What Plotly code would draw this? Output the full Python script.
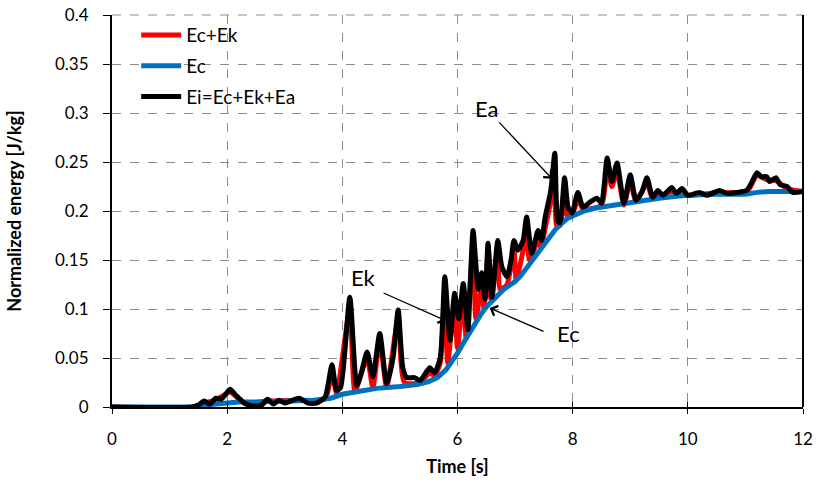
import plotly.graph_objects as go

# ---- data ----
t_ec = [0, 1.4, 1.6, 1.8, 2.0, 2.2, 2.5, 3.0, 3.5, 3.8, 4.0, 4.3, 4.6, 5.0, 5.3, 5.5, 5.65, 5.8, 5.9,
        6.0, 6.1, 6.2, 6.3, 6.4, 6.5, 6.6, 6.7, 6.8, 6.9, 7.0, 7.1, 7.2, 7.3, 7.4, 7.5, 7.6, 7.7, 7.8,
        7.9, 8.0, 8.2, 8.4, 8.6, 8.8, 9.0, 9.2, 9.5, 9.8, 10.0, 10.5, 11.0, 11.2, 11.4, 12.0]
ec = [0, 0, 0.002, 0.003, 0.004, 0.005, 0.005, 0.006, 0.007, 0.009, 0.013, 0.016, 0.019, 0.021, 0.023,
      0.026, 0.030, 0.038, 0.046, 0.055, 0.065, 0.075, 0.085, 0.094, 0.102, 0.108, 0.115, 0.120, 0.124,
      0.128, 0.134, 0.142, 0.150, 0.158, 0.166, 0.174, 0.181, 0.187, 0.192, 0.195, 0.200, 0.203, 0.205,
      0.207, 0.209, 0.211, 0.213, 0.215, 0.216, 0.217, 0.217, 0.219, 0.220, 0.220]

t_eck = [0, 1.4, 1.6, 1.8, 2.05, 2.3, 2.7, 3.25, 3.7, 3.82, 3.9, 4.13, 4.22, 4.43, 4.53, 4.65, 4.77,
         4.97, 5.08, 5.35, 5.52, 5.6, 5.7, 5.78, 5.83, 5.95, 6.0, 6.1, 6.15, 6.27, 6.32, 6.42, 6.46,
         6.53, 6.58, 6.7, 6.74, 6.86, 6.98, 7.02, 7.14, 7.2, 7.25, 7.4, 7.45, 7.52, 7.62, 7.69, 7.72,
         7.78, 7.86, 7.9, 7.99, 8.09, 8.18, 8.5, 8.6, 8.68, 8.77, 8.89, 9.0, 9.1, 9.29, 9.39, 9.72,
         10.0, 10.55, 11.02, 11.2, 11.37, 11.53, 11.72, 12.0]
eck = [0, 0, 0.004, 0.007, 0.015, 0.004, 0.006, 0.007, 0.008, 0.035, 0.014, 0.100, 0.016, 0.050,
       0.020, 0.068, 0.020, 0.090, 0.025, 0.025, 0.035, 0.032, 0.045, 0.120, 0.045, 0.105, 0.060,
       0.115, 0.070, 0.165, 0.090, 0.125, 0.100, 0.155, 0.110, 0.160, 0.120, 0.125, 0.160, 0.130,
       0.160, 0.180, 0.150, 0.170, 0.162, 0.182, 0.210, 0.245, 0.185, 0.185, 0.225, 0.196, 0.196,
       0.212, 0.202, 0.206, 0.245, 0.225, 0.240, 0.206, 0.230, 0.210, 0.228, 0.213, 0.220, 0.216,
       0.219, 0.219, 0.236, 0.232, 0.231, 0.223, 0.220]

t_ei = [0, 1.4, 1.5, 1.6, 1.7, 1.8, 1.9, 2.05, 2.15, 2.3, 2.45, 2.6, 2.7, 2.8, 2.9, 3.0, 3.1, 3.25,
        3.4, 3.55, 3.7, 3.82, 3.9, 3.97, 4.13, 4.25, 4.33, 4.43, 4.53, 4.65, 4.77, 4.88, 4.97, 5.05,
        5.12, 5.25, 5.35, 5.45, 5.52, 5.6, 5.7, 5.78, 5.87, 5.95, 6.02, 6.1, 6.18, 6.27, 6.36, 6.42,
        6.48, 6.53, 6.6, 6.7, 6.77, 6.86, 6.93, 6.98, 7.05, 7.14, 7.2, 7.29, 7.4, 7.46, 7.52, 7.62,
        7.69, 7.74, 7.78, 7.86, 7.92, 7.99, 8.09, 8.18, 8.3, 8.42, 8.5, 8.6, 8.68, 8.77, 8.89, 9.0,
        9.1, 9.2, 9.29, 9.39, 9.48, 9.57, 9.72, 9.8, 9.9, 10.0, 10.2, 10.33, 10.55, 10.68, 11.02,
        11.1, 11.2, 11.28, 11.37, 11.42, 11.53, 11.6, 11.72, 11.82, 12.0]
ei = [0, 0, 0.002, 0.006, 0.003, 0.009, 0.008, 0.018, 0.012, 0.004, 0.001, 0.002, 0.008, 0.003,
      0.007, 0.004, 0.006, 0.009, 0.004, 0.004, 0.010, 0.043, 0.017, 0.020, 0.112, 0.022, 0.035,
      0.056, 0.031, 0.075, 0.024, 0.050, 0.099, 0.040, 0.030, 0.030, 0.027, 0.035, 0.040, 0.035,
      0.050, 0.133, 0.068, 0.116, 0.090, 0.126, 0.079, 0.180, 0.120, 0.137, 0.110, 0.167, 0.112,
      0.170, 0.143, 0.133, 0.150, 0.170, 0.160, 0.170, 0.194, 0.157, 0.180, 0.170, 0.193, 0.221,
      0.259, 0.190, 0.188, 0.234, 0.204, 0.198, 0.219, 0.204, 0.209, 0.213, 0.208, 0.254, 0.230,
      0.249, 0.208, 0.237, 0.211, 0.219, 0.234, 0.214, 0.221, 0.216, 0.224, 0.218, 0.223, 0.216,
      0.219, 0.216, 0.221, 0.218, 0.221, 0.228, 0.239, 0.235, 0.235, 0.230, 0.234, 0.227, 0.225,
      0.219, 0.220]

x_ticks = [0, 2, 4, 6, 8, 10, 12]
y_ticks = [0, 0.05, 0.1, 0.15, 0.2, 0.25, 0.3, 0.35, 0.4]
y_tick_text = ["0", "0.05", "0.1", "0.15", "0.2", "0.25", "0.3", "0.35", "0.4"]

FONT = "Lato, Open Sans, sans-serif"

fig = go.Figure()
fig.add_trace(go.Scatter(x=t_eck, y=eck, mode="lines", name="Ec+Ek", legendgroup="a",
                         line=dict(color="#ff0000", width=5, shape="spline", smoothing=0.6)))
fig.add_trace(go.Scatter(x=t_ec, y=ec, mode="lines", name="Ec", legendgroup="b",
                         line=dict(color="#0070c0", width=5)))
fig.add_trace(go.Scatter(x=t_ei, y=ei, mode="lines", name="Ei=Ec+Ek+Ea", legendgroup="c",
                         line=dict(color="#000000", width=5, shape="spline", smoothing=0.6)))

# invisible trace to give crossing x ticks (inside part)
fig.add_trace(go.Scatter(x=[0, 12], y=[0, 0], xaxis="x2", mode="lines", showlegend=False,
                         line=dict(width=0), hoverinfo="skip"))

grid = dict(showgrid=True, gridcolor="#8c8c8c", gridwidth=1, griddash="dash")

fig.update_layout(
    width=817, height=486,
    margin=dict(l=112, r=14, t=15, b=79, autoexpand=False),
    paper_bgcolor="white", plot_bgcolor="white",
    font=dict(family=FONT, size=17, color="black"),
    showlegend=True,
    legend=dict(x=0.035, y=0.997, xanchor="left", yanchor="top", bgcolor="rgba(0,0,0,0)",
                font=dict(size=19), traceorder="grouped", tracegroupgap=3, itemwidth=40),
    xaxis=dict(range=[0, 12], tickvals=x_ticks, ticks="outside", ticklen=5, tickcolor="black",
               showline=True, linecolor="black", linewidth=2, zeroline=False, automargin=False,
               ticklabelstandoff=11, ticklabeloverflow="allow",
               title=dict(text="<b>Time [s]</b>", font=dict(size=18), standoff=12), **grid),
    xaxis2=dict(range=[0, 12], overlaying="x", anchor="y", side="bottom", tickvals=x_ticks,
                ticks="inside", ticklen=5, tickcolor="black", showticklabels=False,
                showgrid=False, zeroline=False, showline=False, automargin=False),
    yaxis=dict(range=[0, 0.4], tickvals=y_ticks, ticktext=y_tick_text, ticks="outside", ticklen=7,
               tickcolor="black", showline=True, linecolor="black", linewidth=2, zeroline=False,
               automargin=False, ticklabelstandoff=11, ticklabeloverflow="allow",
               title=dict(text="<b>Normalized energy [J/kg]</b>", font=dict(size=18), standoff=29),
               **grid),
    shapes=[dict(type="line", xref="paper", yref="paper", x0=1, x1=1, y0=0, y1=1,
                 line=dict(color="black", width=2)),
            dict(type="line", xref="paper", yref="paper", x0=0, x1=1, y0=1, y1=1, layer="below",
                 line=dict(color="#8c8c8c", width=1, dash="dash"))],
)

arrow = dict(showarrow=True, arrowhead=4, arrowsize=1.6, arrowwidth=1.3, arrowcolor="black",
             axref="x", ayref="y", text="")
fig.add_annotation(x=7.64, y=0.233, ax=6.70, ay=0.292, **arrow)
fig.add_annotation(x=5.80, y=0.088, ax=4.69, ay=0.117, **arrow)
fig.add_annotation(x=6.56, y=0.101, ax=7.52, ay=0.0765, **arrow)

lab = dict(showarrow=False, font=dict(size=22, family=FONT))
fig.add_annotation(x=6.51, y=0.305, text="Ea", **lab)
fig.add_annotation(x=4.36, y=0.132, text="Ek", **lab)
fig.add_annotation(x=7.92, y=0.0755, text="Ec", **lab)

fig.write_html("out.html", config={"displayModeBar": False},
               post_script="document.body.style.margin='0';document.body.style.overflow='hidden';")
